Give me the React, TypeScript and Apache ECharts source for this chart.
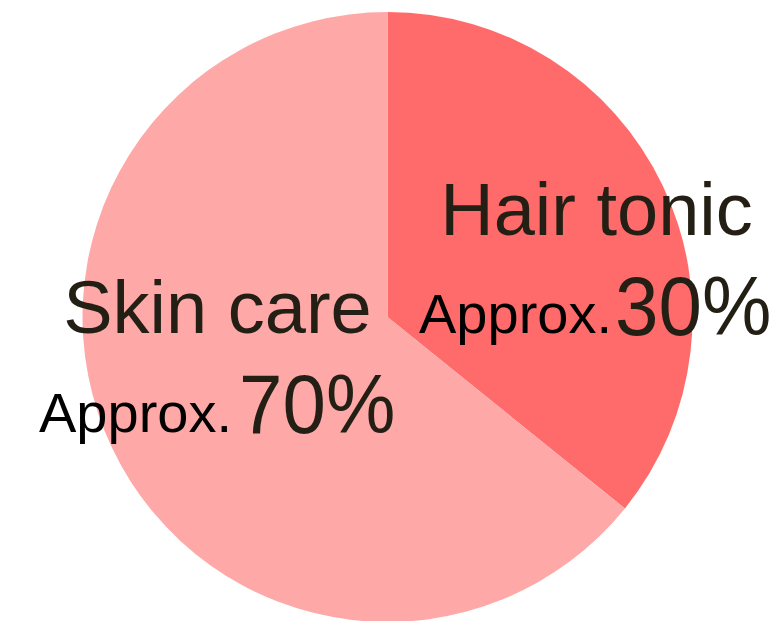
import React, { useEffect, useRef } from "react";
import * as echarts from "echarts";

const categories = ["Hair tonic", "Skin care"];
const values = [35.8, 64.2];
const approxPrefix = "Approx.";
const approxLabels = ["30%", "70%"];
const colors = ["#FF6A6A", "#FFA8A8"];

const FONT = "'Liberation Sans', Arial, Helvetica, sans-serif";
const C = 0.3465; // central-baseline offset ratio

function txt(text: string, x: number, baseline: number, size: number, align: string, fill: string, scaleX = 1) {
  return {
    type: "text",
    x,
    y: baseline - C * size,
    scaleX,
    z: 100,
    silent: true,
    style: {
      text,
      fontSize: size,
      fontFamily: FONT,
      fill,
      align,
      verticalAlign: "middle",
    },
  };
}

export default function App() {
  const ref = useRef<HTMLDivElement>(null);
  useEffect(() => {
    if (!ref.current) return;
    const chart = echarts.init(ref.current, undefined, { renderer: "svg" });
    chart.setOption({
      animation: false,
      backgroundColor: "#ffffff",
      series: [
        {
          type: "pie",
          z: 1,
          center: [387.5, 317],
          radius: [0, 305],
          startAngle: 90,
          clockwise: true,
          silent: true,
          label: { show: false },
          labelLine: { show: false },
          emphasis: { disabled: true },
          itemStyle: { borderWidth: 0 },
          data: categories.map((name, i) => ({
            name,
            value: values[i],
            itemStyle: { color: colors[i] },
          })),
        },
      ],
      graphic: {
        elements: [
          txt(categories[0], 596.5, 235, 74, "center", "#231F14"),
          txt(approxPrefix, 419, 333, 56, "left", "#000000"),
          txt(approxLabels[0], 615, 335, 84, "left", "#231F14", 0.93),
          txt(categories[1], 217.5, 333, 74, "center", "#231F14"),
          txt(approxPrefix, 39, 432, 56, "left", "#000000"),
          txt(approxLabels[1], 239, 433, 84, "left", "#231F14", 0.93),
        ],
      },
    });
    return () => chart.dispose();
  }, []);
  return (
    <div
      ref={ref}
      style={{ position: "fixed", left: 0, top: 0, width: 782, height: 621 }}
    />
  );
}
